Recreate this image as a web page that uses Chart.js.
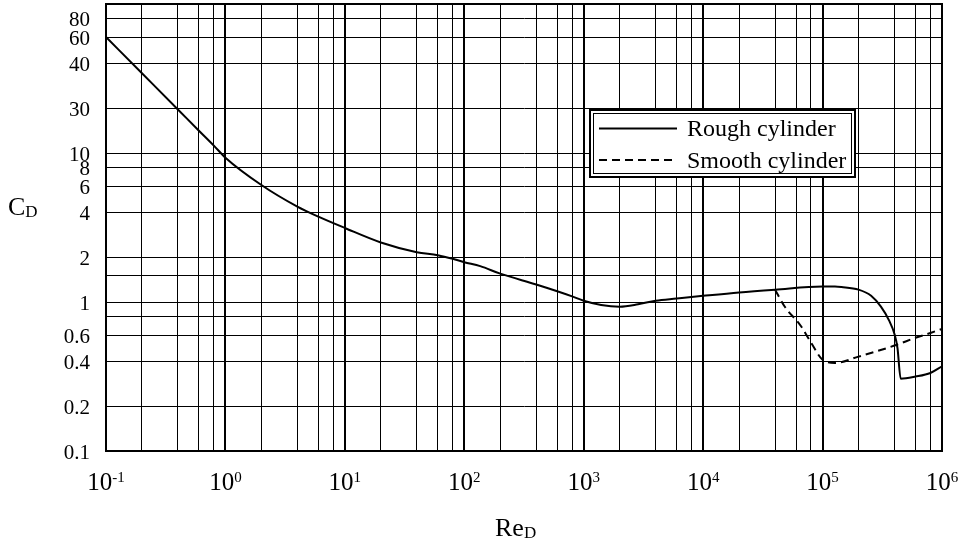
<!DOCTYPE html>
<html>
<head>
<meta charset="utf-8">
<script src="https://cdn.jsdelivr.net/npm/chart.js@4.4.0/dist/chart.umd.min.js"></script>
<style>
  html, body { margin: 0; padding: 0; background: #fff; }
</style>
</head>
<body>
<canvas id="cd" width="967" height="539"></canvas>
<script>
// Rough cylinder (solid line)
const roughRe = [0.1, 0.2, 0.4, 0.6, 0.8, 1, 2, 4, 6, 10, 20, 40, 60, 80, 100, 136, 200, 400, 600, 800,
  1000, 1400, 2000, 2850, 4000, 6000, 10000, 20000, 40000, 100000, 127000, 144000, 200000, 255000,
  308000, 361000, 400000, 424000, 451000, 600000, 800000, 1000000];
const roughCd = [60, 34.3, 19.6, 14.1, 11.2, 9.3, 6.1, 4.37, 3.74, 3.14, 2.51, 2.16, 2.06, 1.95, 1.85, 1.74, 1.55, 1.31, 1.18, 1.09,
  1.02, 0.955, 0.93, 0.965, 1.02, 1.055, 1.10, 1.16, 1.21, 1.27, 1.27, 1.26, 1.21, 1.10,
  0.93, 0.75, 0.61, 0.49, 0.306, 0.316, 0.334, 0.37];

// Smooth cylinder (dashed line)
const smoothRe = [40000, 48300, 65800, 80900, 100000, 127000, 200000, 400000, 600000, 800000, 1000000];
const smoothCd = [1.21, 0.93, 0.69, 0.526, 0.41, 0.39, 0.43, 0.51, 0.575, 0.62, 0.66];

// axes
const yTickValues = [0.1, 0.2, 0.4, 0.6, 0.8, 1, 1.5, 2, 4, 6, 8, 10, 20, 40, 60, 80, 100];
const yTickLabels = ['0.1', '0.2', '0.4', '0.6', '', '1', '', '2', '4', '6', '8', '10', '30', '40', '60', '80', ''];
const xDecades = [-1, 0, 1, 2, 3, 4, 5, 6];
const xMinorSteps = [2, 4, 6, 8];
const legendLabels = ['Rough cylinder', 'Smooth cylinder'];

const xTickValues = [];
xDecades.forEach(e => {
  xTickValues.push(Math.pow(10, e));
  if (e < 6) xMinorSteps.forEach(m => xTickValues.push(m * Math.pow(10, e)));
});
xTickValues.sort((a, b) => a - b);

const serif = '"Liberation Serif", "Times New Roman", serif';
const isDecade = v => Math.abs(Math.log10(v) - Math.round(Math.log10(v))) < 1e-9;

// labels, frame and legend drawn on top
const annotate = {
  id: 'annotate',
  afterDraw(chart) {
    const { ctx, chartArea: a, scales: { x, y } } = chart;
    ctx.save();
    ctx.strokeStyle = '#000';
    ctx.fillStyle = '#000';

    // top / right frame
    ctx.lineWidth = 2;
    ctx.beginPath();
    ctx.moveTo(a.left, a.top);
    ctx.lineTo(a.right, a.top);
    ctx.lineTo(a.right, a.bottom);
    ctx.stroke();

    // y tick labels
    ctx.font = '21px ' + serif;
    ctx.textAlign = 'right';
    ctx.textBaseline = 'middle';
    yTickValues.forEach((v, i) => {
      if (yTickLabels[i]) ctx.fillText(yTickLabels[i], a.left - 16, y.getPixelForValue(v) + 2);
    });

    // x tick labels, 10^n
    ctx.textAlign = 'left';
    ctx.textBaseline = 'alphabetic';
    xDecades.forEach(e => {
      const px = x.getPixelForValue(Math.pow(10, e));
      const sup = String(e);
      ctx.font = '25px ' + serif;
      const wb = ctx.measureText('10').width;
      ctx.font = '15px ' + serif;
      const ws = ctx.measureText(sup).width;
      const left = px - (wb + ws) / 2;
      ctx.font = '25px ' + serif;
      ctx.fillText('10', left, a.bottom + 39);
      ctx.font = '15px ' + serif;
      ctx.fillText(sup, left + wb, a.bottom + 31);
    });

    // axis titles
    ctx.font = '26px ' + serif;
    ctx.fillText('C', 8, 215);
    let w = ctx.measureText('C').width;
    ctx.font = '17px ' + serif;
    ctx.fillText('D', 8 + w, 217);

    ctx.font = '26px ' + serif;
    w = ctx.measureText('Re').width;
    ctx.fillText('Re', 495, 536);
    ctx.font = '17px ' + serif;
    ctx.fillText('D', 495 + w, 538);

    // legend
    ctx.fillStyle = '#fff';
    ctx.fillRect(589, 109, 267, 69);
    ctx.lineWidth = 2;
    ctx.strokeRect(590, 110, 265, 67);
    ctx.lineWidth = 1;
    ctx.strokeRect(593.5, 113.5, 258, 60);

    ctx.lineWidth = 2;
    ctx.beginPath();
    ctx.moveTo(599, 128.5);
    ctx.lineTo(677, 128.5);
    ctx.stroke();
    ctx.setLineDash([8, 5]);
    ctx.beginPath();
    ctx.moveTo(599, 160);
    ctx.lineTo(677, 160);
    ctx.stroke();
    ctx.setLineDash([]);

    ctx.fillStyle = '#000';
    ctx.font = '24px ' + serif;
    ctx.fillText(legendLabels[0], 687, 136);
    ctx.fillText(legendLabels[1], 687, 168);
    ctx.restore();
  }
};

new Chart(document.getElementById('cd'), {
  type: 'line',
  data: {
    datasets: [
      {
        label: legendLabels[0],
        data: roughRe.map((v, i) => ({ x: v, y: roughCd[i] })),
        borderColor: '#000',
        borderWidth: 2,
        pointRadius: 0,
        cubicInterpolationMode: 'monotone',
        fill: false
      },
      {
        label: legendLabels[1],
        data: smoothRe.map((v, i) => ({ x: v, y: smoothCd[i] })),
        borderColor: '#000',
        borderWidth: 2,
        borderDash: [8, 5],
        pointRadius: 0,
        cubicInterpolationMode: 'monotone',
        fill: false
      }
    ]
  },
  options: {
    responsive: false,
    animation: false,
    devicePixelRatio: 1,
    layout: { padding: { left: 0, right: 25, top: 4, bottom: 0 } },
    plugins: {
      legend: { display: false },
      tooltip: { enabled: false }
    },
    scales: {
      x: {
        type: 'logarithmic',
        min: 0.1,
        max: 1000000,
        afterBuildTicks: s => { s.ticks = xTickValues.map(v => ({ value: v })); },
        afterFit: s => { s.height = 88; },
        ticks: { display: false },
        grid: {
          color: '#000',
          lineWidth: c => (c.tick && isDecade(c.tick.value)) ? 2 : 1,
          drawTicks: false
        },
        border: { display: true, width: 2, color: '#000' }
      },
      y: {
        type: 'logarithmic',
        min: 0.1,
        max: 100,
        afterBuildTicks: s => { s.ticks = yTickValues.map(v => ({ value: v })); },
        afterFit: s => { s.width = 106; },
        ticks: { display: false },
        grid: { color: '#000', lineWidth: 1, drawTicks: false },
        border: { display: true, width: 2, color: '#000' }
      }
    }
  },
  plugins: [annotate]
});
</script>
</body>
</html>
